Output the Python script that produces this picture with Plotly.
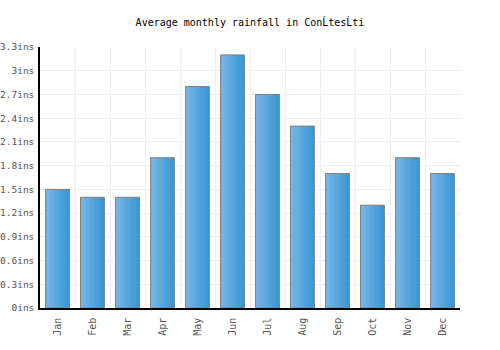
import plotly.graph_objects as go

months = ["Jan", "Feb", "Mar", "Apr", "May", "Jun", "Jul", "Aug", "Sep", "Oct", "Nov", "Dec"]
rainfall = [1.5, 1.4, 1.4, 1.9, 2.8, 3.2, 2.7, 2.3, 1.7, 1.3, 1.9, 1.7]
ytick_vals = [0, 0.3, 0.6, 0.9, 1.2, 1.5, 1.8, 2.1, 2.4, 2.7, 3.0, 3.3]
ytick_text = ["0ins", "0.3ins", "0.6ins", "0.9ins", "1.2ins", "1.5ins", "1.8ins",
              "2.1ins", "2.4ins", "2.7ins", "3ins", "3.3ins"]
title = "Average monthly rainfall in ConĹtesĹti"

font = "DejaVu Sans Mono"
BAR_W = 0.68
N = 14
c0 = (0x76, 0xb7, 0xea)
c1 = (0x3b, 0x97, 0xd1)

fig = go.Figure()
sw = BAR_W / N
for i in range(N):
    t = i / (N - 1)
    col = "rgb(%d,%d,%d)" % tuple(round(a + (b - a) * t) for a, b in zip(c0, c1))
    fig.add_trace(go.Bar(
        x=months, y=rainfall, width=sw * 1.05, offset=-BAR_W / 2 + i * sw,
        marker=dict(color=col, line=dict(width=0)), hoverinfo="skip",
    ))
fig.add_trace(go.Bar(
    x=months, y=rainfall, width=BAR_W, offset=-BAR_W / 2,
    marker=dict(color="rgba(0,0,0,0)", line=dict(color="#808080", width=1)),
))
fig.update_layout(
    width=500, height=350,
    margin=dict(l=40, r=40, t=47, b=42),
    paper_bgcolor="white", plot_bgcolor="white",
    showlegend=False, barmode="overlay",
    title=dict(text=title, x=0.5, xanchor="center", y=1 - 22 / 350, yanchor="middle",
               font=dict(family=font, size=10, color="#000")),
    font=dict(family=font, size=10, color="#555"),
)
fig.update_xaxes(
    tickangle=-90, showline=True, linecolor="#000", linewidth=1.5,
    showgrid=True, gridcolor="#eeeeee", tickson="boundaries", ticks="",
    automargin=False, ticklabelstandoff=4,
    tickfont=dict(family=font, size=10, color="#555"),
)
fig.update_yaxes(
    range=[0, 3.3], tickvals=ytick_vals, ticktext=ytick_text,
    showline=True, linecolor="#000", linewidth=1.5,
    showgrid=True, gridcolor="#eeeeee", zeroline=False, ticks="",
    automargin=False, ticklabelstandoff=2,
    tickfont=dict(family=font, size=9.5, color="#555"),
)
fig.write_html("out.html")
